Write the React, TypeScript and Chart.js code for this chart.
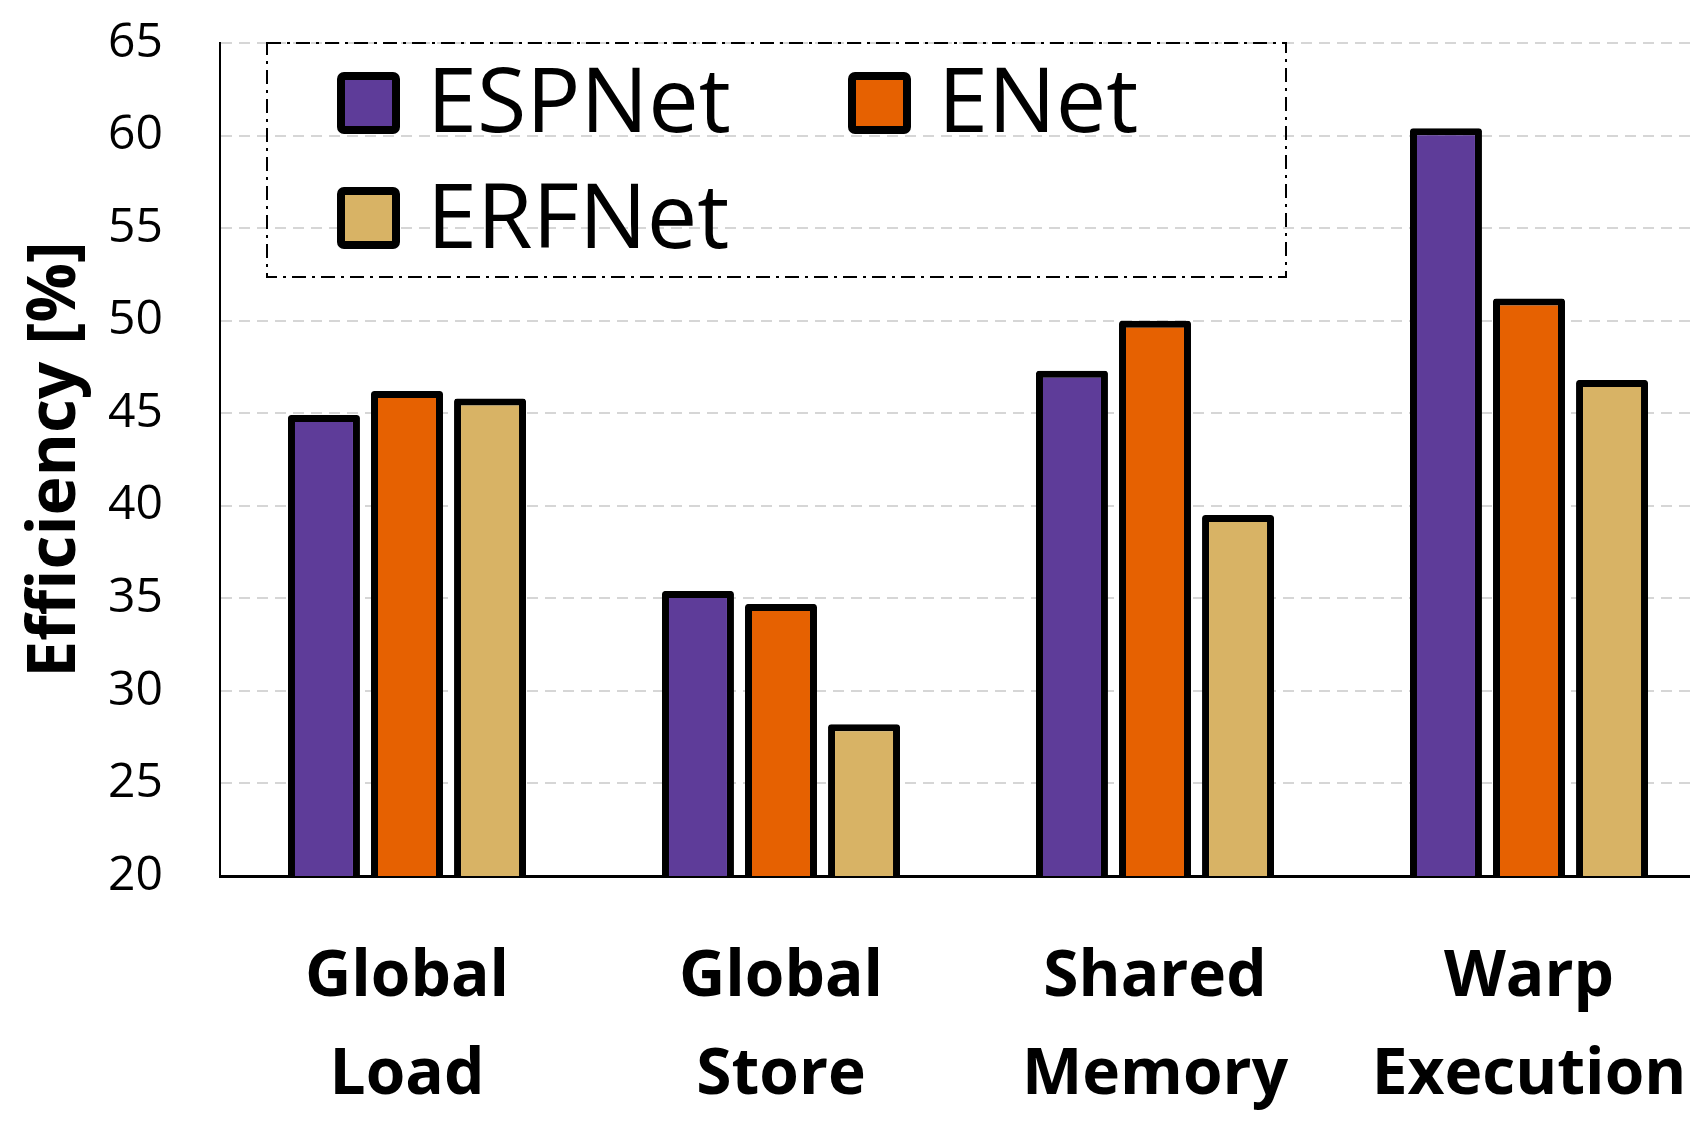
import { useEffect, useRef } from "react"
import { Chart, registerables } from "chart.js"

Chart.register(...registerables)

// categories and values
const categories = [
  ["Global", "Load"],
  ["Global", "Store"],
  ["Shared", "Memory"],
  ["Warp", "Execution"],
]
const espnet = [44.9, 35.4, 47.3, 60.4]
const enet = [46.2, 34.7, 50.0, 51.2]
const erfnet = [45.8, 28.2, 39.5, 46.8]
const yTicks = [20, 25, 30, 35, 40, 45, 50, 55, 60, 65]

const FONT = "'Open Sans', 'Noto Sans', sans-serif"

// legend drawn by hand so the dash-dot frame can be matched
const legendBox = {
  id: "legendBox",
  afterDraw(chart: Chart) {
    const { ctx } = chart
    ctx.save()
    ctx.setLineDash([14, 6, 3, 6])
    ctx.lineWidth = 2
    ctx.strokeStyle = "#000"
    ctx.strokeRect(267, 43, 1019, 234)
    ctx.setLineDash([])

    const slots = [
      { x: 337, y: 72, base: 132 },
      { x: 848, y: 72, base: 132 },
      { x: 337, y: 187, base: 248 },
    ]
    chart.data.datasets.forEach((ds: any, i: number) => {
      const s = slots[i]
      if (!s) return
      ctx.fillStyle = ds.backgroundColor
      ctx.strokeStyle = "#000"
      ctx.lineWidth = 8
      ctx.beginPath()
      ctx.roundRect(s.x + 4, s.y + 4, 55, 54, 3)
      ctx.fill()
      ctx.stroke()
      ctx.fillStyle = "#000"
      ctx.font = `90px ${FONT}`
      ctx.textBaseline = "alphabetic"
      ctx.textAlign = "left"
      ctx.fillText(ds.label, s.x + 90, s.base)
    })
    ctx.restore()
  },
}

export default function App() {
  const canvasRef = useRef<HTMLCanvasElement>(null)
  const chartRef = useRef<Chart | null>(null)

  useEffect(() => {
    if (!canvasRef.current) return
    if (chartRef.current) chartRef.current.destroy()

    const barStyle = {
      borderColor: "#000",
      borderWidth: 7,
      borderRadius: 3,
      borderSkipped: false as const,
      barPercentage: 0.867,
      categoryPercentage: 0.666,
    }

    chartRef.current = new Chart(canvasRef.current, {
      type: "bar",
      data: {
        labels: categories,
        datasets: [
          { label: "ESPNet", data: espnet, backgroundColor: "#5E3C99", ...barStyle },
          { label: "ENet", data: enet, backgroundColor: "#E66101", ...barStyle },
          { label: "ERFNet", data: erfnet, backgroundColor: "#D8B365", ...barStyle },
        ],
      },
      options: {
        responsive: true,
        maintainAspectRatio: false,
        animation: false,
        layout: { padding: { top: 43, right: 0, bottom: 0, left: 0 } },
        plugins: {
          legend: { display: false },
          tooltip: { enabled: false },
        },
        scales: {
          x: {
            z: 1,
            grid: { display: false, drawTicks: false },
            border: { display: true, color: "#000", width: 3 },
            ticks: {
              color: "#000",
              padding: 53,
              maxRotation: 0,
              autoSkip: false,
              font: { family: FONT, size: 64, weight: "bold", lineHeight: 1.53 },
            },
            afterFit: (scale: any) => {
              scale.height = 247
              scale.paddingLeft = 0
              scale.paddingRight = 0
            },
          },
          y: {
            min: yTicks[0],
            max: yTicks[yTicks.length - 1],
            afterBuildTicks: (scale: any) => {
              scale.ticks = yTicks.map((v) => ({ value: v }))
            },
            grid: { color: "#d6d6d6", lineWidth: 2, drawTicks: false },
            border: { display: true, color: "#000", width: 2, dash: [11, 7] },
            ticks: {
              color: "#000",
              padding: 57,
              font: { family: FONT, size: 48 },
            },
            title: {
              display: true,
              text: "Efficiency [%]",
              color: "#000",
              padding: { top: 17, bottom: 0 },
              font: { family: FONT, size: 66, weight: "bold", lineHeight: 1.2 },
            },
            afterFit: (scale: any) => {
              scale.width = 220
              scale.paddingTop = 0
              scale.paddingBottom = 0
            },
          },
        },
      },
      plugins: [legendBox],
    })

    return () => {
      if (chartRef.current) {
        chartRef.current.destroy()
        chartRef.current = null
      }
    }
  }, [])

  return (
    <div
      style={{
        position: "absolute",
        left: 0,
        top: 0,
        width: 1690,
        height: 1123,
        overflow: "hidden",
        background: "#fff",
      }}
    >
      <div style={{ width: 1716, height: 1123 }}>
        <canvas ref={canvasRef} />
      </div>
    </div>
  )
}
